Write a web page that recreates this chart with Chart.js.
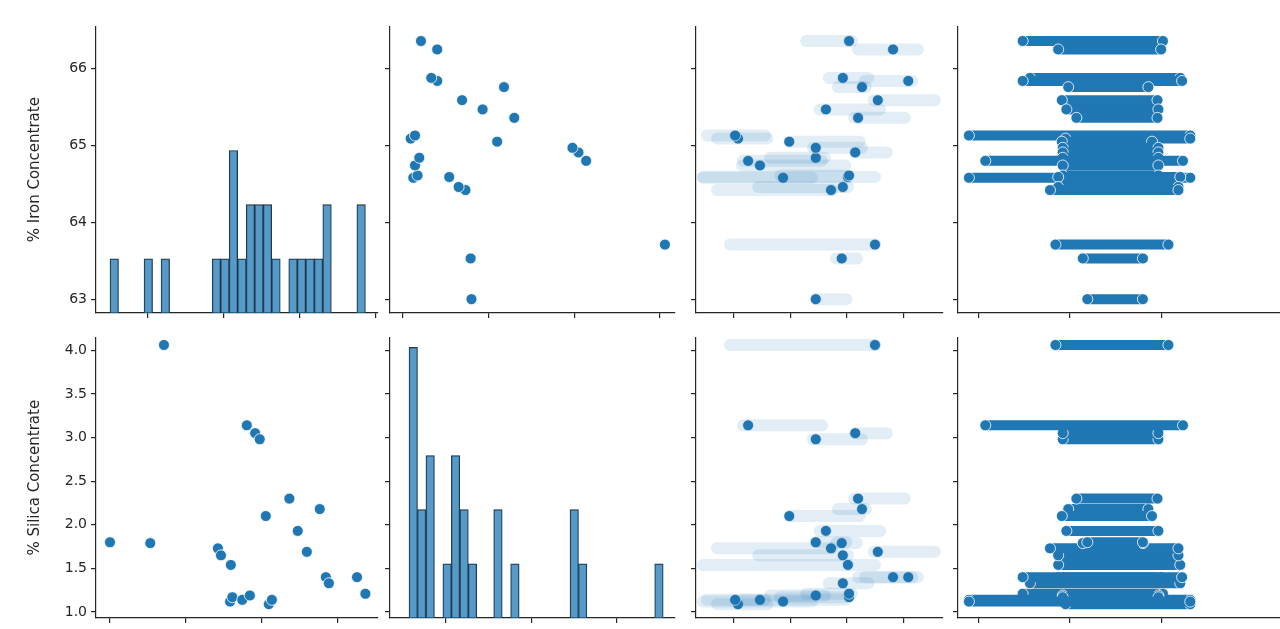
<!DOCTYPE html>
<html><head><meta charset="utf-8">
<script src="https://cdn.jsdelivr.net/npm/chart.js@4.4.1/dist/chart.umd.min.js"></script>
<style>html,body{margin:0;padding:0;background:#fff;overflow:hidden;width:1280px;height:629px;position:relative}
canvas{position:absolute}</style></head><body>
<script>
// per-sample values
const iron   = [63.00,63.53,63.71,64.42,64.46,64.59,64.58,64.61,64.74,64.80,64.84,64.91,64.97,65.05,65.09,65.13,65.36,65.47,65.59,65.76,65.84,65.88,66.25,66.36];
const silica = [1.80,1.79,4.06,1.73,1.65,1.54,1.12,1.17,1.14,3.14,1.19,3.05,2.98,2.10,1.09,1.14,2.30,1.93,1.69,2.18,1.40,1.33,1.40,1.21];
// third variable: streak start, end and highlighted value
const v3Start = [2.45,2.81,0.93,0.70,1.43,0.45,0.45,1.82,1.14,1.16,1.64,3.15,2.40,1.99,0.70,0.52,3.13,2.52,3.48,2.84,3.32,2.68,3.20,2.28];
const v3End   = [2.99,3.18,3.50,2.74,3.02,3.50,2.38,2.97,2.97,2.56,2.61,3.71,3.27,3.23,1.59,1.55,4.03,3.59,4.56,3.34,4.16,3.38,4.26,3.09];
const v3Dot   = [2.45,2.91,3.50,2.72,2.93,3.02,1.87,3.04,1.46,1.25,2.45,3.15,2.45,1.98,1.07,1.02,3.20,2.63,3.55,3.27,4.09,2.93,3.82,3.04];
// fourth variable: range of values
const v4Start = [2.19,2.14,1.84,1.78,1.87,1.87,0.89,1.92,1.92,1.07,1.92,1.92,1.92,1.91,1.95,0.89,2.07,1.96,1.91,1.98,1.48,1.56,1.87,1.48];
const v4End   = [2.80,2.80,3.08,3.19,3.19,3.21,3.32,2.97,2.97,3.24,2.97,2.97,2.97,2.90,3.32,3.32,2.96,2.97,2.96,2.86,3.23,3.21,3.00,3.02];
// histograms
const ironBinStart = 63.0, ironBinWidth = 0.112;
const ironCounts = [1,0,0,0,1,0,1,0,0,0,0,0,1,1,3,1,2,2,2,1,0,1,1,1,1,2,0,0,0,2];
const silicaBinStart = 1.07, silicaBinWidth = 0.099;
const silicaCounts = [5,2,3,0,1,3,2,1,0,0,2,0,1,0,0,0,0,0,0,2,1,0,0,0,0,0,0,0,0,1];
const ironTicks = [63,64,65,66];
const silicaTicks = [1.0,1.5,2.0,2.5,3.0,3.5,4.0];

const BLUE = '#1f77b4';
const FONT = 'DejaVu Sans';
const cols = [[96,378,62.816,66.526,[63,64,65,66]],[390,675,0.848,4.178,[1,2,3,4]],[696,943,0.326,4.706,[1,2,3,4]],[958,1285,0.77,4.36,[1,2,3]]];
const rows = [[22,313,62.82,66.55,ironTicks,'% Iron Concentrate'],[333,618,0.932,4.147,silicaTicks,'% Silica Concentrate']];

function mk(ci,ri,datasets,yHist,type){
  const [L,R,xmin,xmax,xt]=cols[ci]; const [T,B,ymin,ymax,yt,title]=rows[ri];
  const c=document.createElement('canvas');
  const w=(R-L)+78, h=(B-T)+23;
  c.width=w;c.height=h;c.style.left=(L-70)+'px';c.style.top=(T-8)+'px';c.style.width=w+'px';c.style.height=h+'px';
  document.body.appendChild(c);
  const first=ci===0;
  const grid={display:true,drawOnChartArea:false,drawTicks:true,tickLength:5,color:'#262626',lineWidth:1.2};
  const border={display:true,color:'#262626',width:1.2};
  const fmt=v=>ri===1?Number(v).toFixed(1):String(v);
  new Chart(c,{type:type||'scatter',data:{datasets},options:{
    responsive:false,devicePixelRatio:1,animation:false,
    layout:{padding:{top:8,right:8,left:0,bottom:0}},
    plugins:{legend:{display:false},tooltip:{enabled:false}},
    scales:{
      x:{type:'linear',offset:false,min:xmin,max:xmax,grid,border,
        ticks:{display:true,callback:()=>'',padding:0},
        afterBuildTicks:s=>{s.ticks=xt.map(v=>({value:v}));},
        afterFit:s=>{s.height=15;}},
      y:{type:'linear',min:yHist?0:ymin,max:yHist?yHist:ymax,grid,border,
        ticks:{display:true,padding:4,color:'#262626',font:{family:FONT,size:14},
          callback:(v,i)=>first?fmt(yt[i]):''},
        afterBuildTicks:s=>{ if(yHist){ s.ticks=yt.map(v=>({value:(v-ymin)/(ymax-ymin)*yHist})); } else s.ticks=yt.map(v=>({value:v})); },
        title:{display:first,text:title,color:'#262626',font:{family:FONT,size:15},padding:{top:0,bottom:2}},
        afterFit:s=>{s.width=70;}}
    }}});
}
function hist(start,width,counts){
  return [{type:'bar',data:counts.map((n,i)=>({x:start+width*(i+0.5),y:n})),
    backgroundColor:'rgba(31,119,180,0.75)',borderColor:'#2a2a2a',borderWidth:0.8,
    barPercentage:1,categoryPercentage:1,grouped:false}];
}
function pts(xs,ys){return {data:xs.map((x,i)=>({x,y:ys[i]})),pointRadius:5.5,pointBackgroundColor:BLUE,pointBorderColor:'#fff',pointBorderWidth:0.8,showLine:false};}
function streaks(ys){
  return ys.map((y,i)=>({data:[{x:v3Start[i],y},{x:v3End[i],y}],showLine:true,borderColor:'rgba(31,119,180,0.13)',borderWidth:12,borderCapStyle:'round',pointRadius:0}));
}
function bands(ys){
  return ys.map((y,i)=>({data:[{x:v4Start[i],y},{x:v4End[i],y}],showLine:true,borderColor:BLUE,borderWidth:10,borderCapStyle:'round',pointRadius:5.5,pointBackgroundColor:BLUE,pointBorderColor:'#fff',pointBorderWidth:0.8}));
}
// row 1 (iron)
mk(0,0,hist(ironBinStart,ironBinWidth,ironCounts),(313-22)/55,'bar');
mk(1,0,[pts(silica,iron)]);
mk(2,0,[...streaks(iron),pts(v3Dot,iron)]);
mk(3,0,bands(iron));
// row 2 (silica)
mk(0,1,[pts(iron,silica)]);
mk(1,1,hist(silicaBinStart,silicaBinWidth,silicaCounts),(618-333)/55,'bar');
mk(2,1,[...streaks(silica),pts(v3Dot,silica)]);
mk(3,1,bands(silica));
</script></body></html>
